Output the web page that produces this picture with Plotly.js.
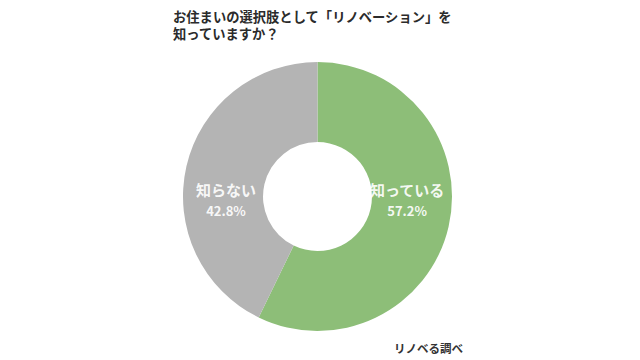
<!DOCTYPE html>
<html><head><meta charset="utf-8">
<script src="https://cdn.plot.ly/plotly-3.0.1.min.js"></script>
<style>html,body{margin:0;padding:0;background:#fff}#chart{width:640px;height:360px}</style>
</head><body><div id="chart"></div>
<script>
const titleLines = ["お住まいの選択肢として「リノベーション」を", "知っていますか？"];
const categories = ["知っている", "知らない"];
const values = [57.2, 42.8];
const colors = ["#8dbe78", "#b4b4b4"];
const sourceText = "リノベる調べ";

const font = "Noto Sans CJK JP, Noto Sans, sans-serif";
const labelPos = [{x: 407/640, y: 1 - 199/360}, {x: 226/640, y: 1 - 199/360}];

const annotations = [{
  text: titleLines.map(t => "<b>" + t + "</b>").join("<br>"),
  x: 171/640, y: 1 - 25.5/360, xref: "paper", yref: "paper",
  xanchor: "left", yanchor: "middle", align: "left", showarrow: false,
  font: {family: font, size: 13.3, color: "#2b2b2b"}
}];

categories.forEach((c, i) => {
  annotations.push({
    text: "<b>" + c + "</b><br><span style='font-size:13px'><b>" + values[i].toFixed(1) + "%</b></span>",
    x: labelPos[i].x, y: labelPos[i].y, xref: "paper", yref: "paper",
    xanchor: "center", yanchor: "middle", showarrow: false, align: "center",
    font: {family: font, size: 15, color: "rgba(255,255,255,0.92)"}
  });
});

annotations.push({text: "<b>" + sourceText + "</b>", x: 392/640, y: 1 - 347.5/360, xref: "paper", yref: "paper",
  xanchor: "left", yanchor: "middle", showarrow: false, font: {family: font, size: 11.5, color: "#333"}});

Plotly.newPlot("chart", [{
  type: "pie",
  labels: categories,
  values: values,
  marker: {colors: colors, line: {width: 0}},
  hole: 0.405,
  sort: false,
  direction: "clockwise",
  rotation: 0,
  textinfo: "none",
  showlegend: false,
  domain: {x: [183/640, 452/640], y: [1 - 331/360, 1 - 62/360]}
}], {
  width: 640, height: 360,
  margin: {l: 0, r: 0, t: 0, b: 0},
  paper_bgcolor: "#fff",
  annotations: annotations
}, {staticPlot: true});
</script></body></html>
